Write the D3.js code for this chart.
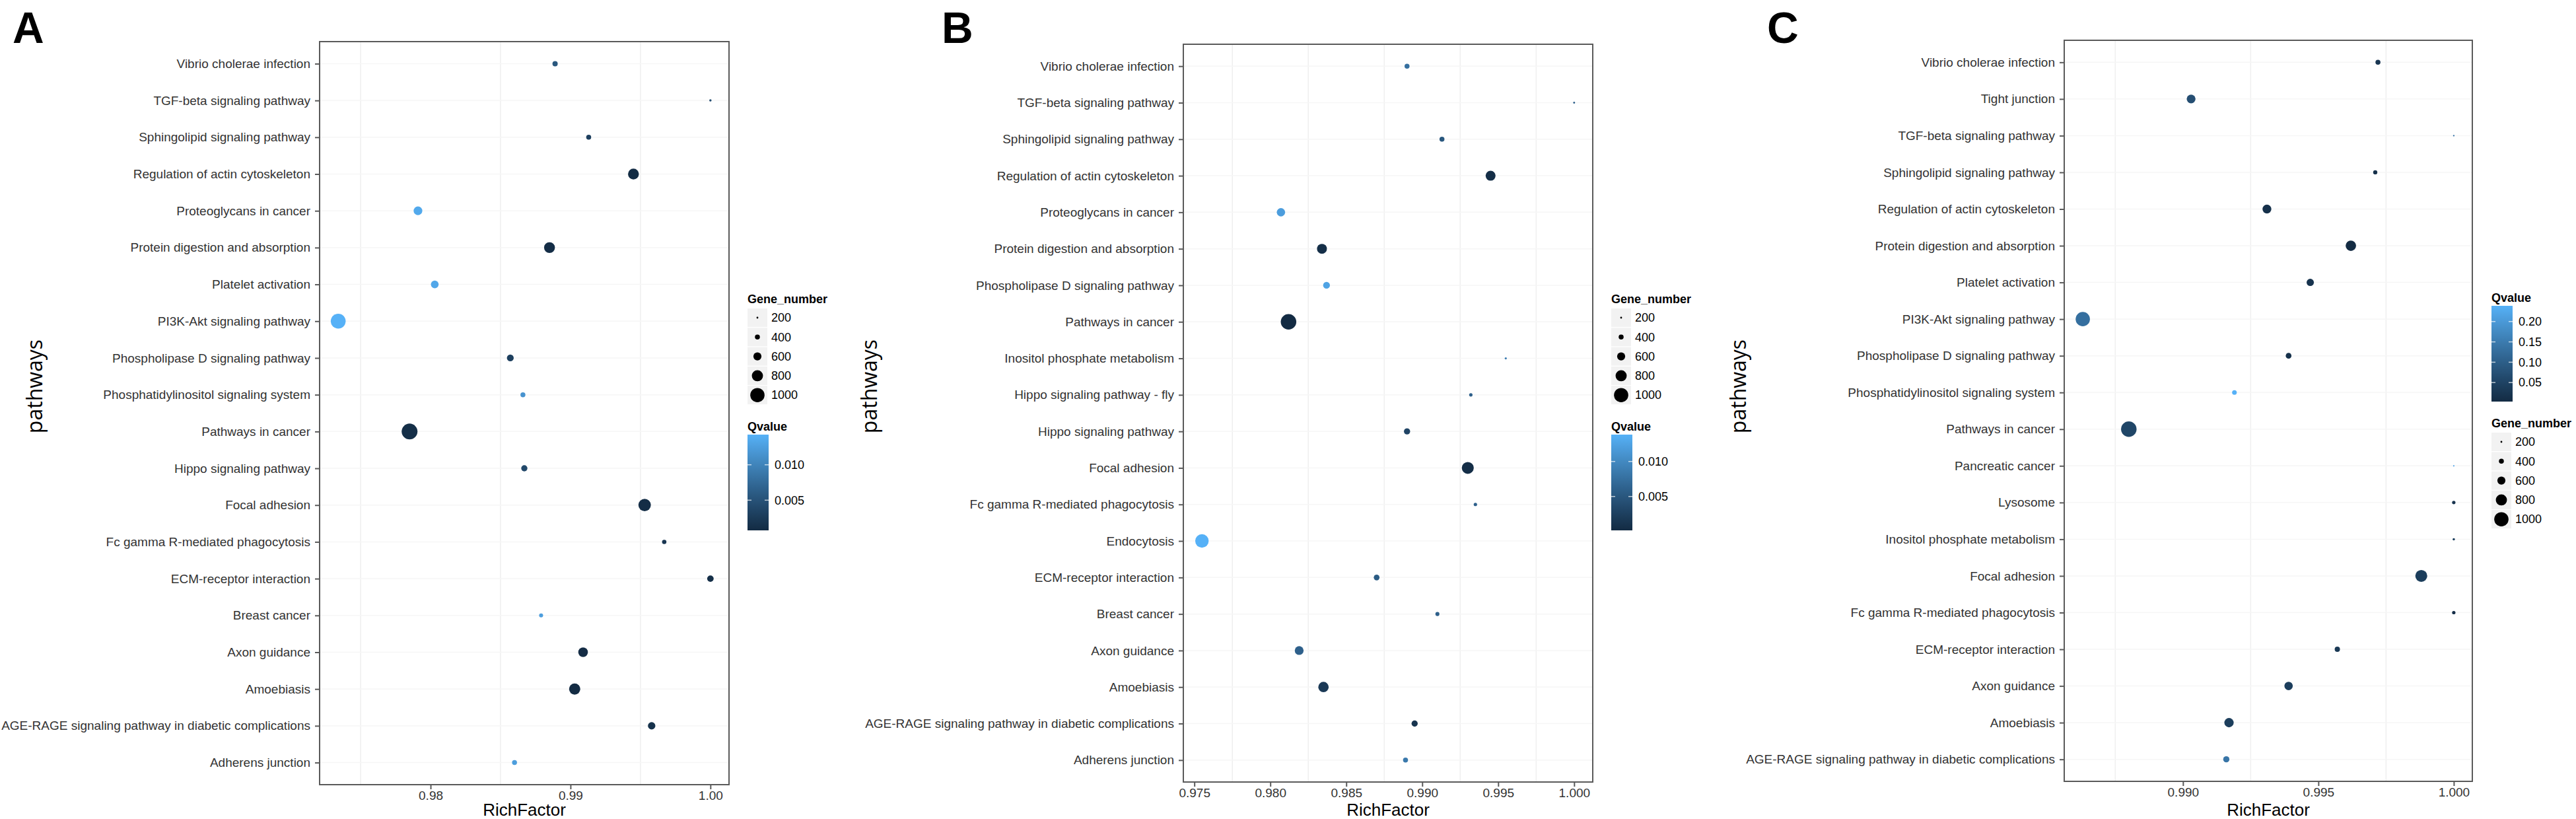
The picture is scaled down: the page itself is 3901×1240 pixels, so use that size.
<!DOCTYPE html>
<html><head><meta charset="utf-8">
<script src="https://cdn.jsdelivr.net/npm/d3@7"></script>
<style>body{margin:0;background:#fff}svg{display:block}</style>
</head><body>
<svg id="chart" width="3901" height="1240"></svg>
<script>
// ---------------- DATA ----------------
const pathwaysA = ["Vibrio cholerae infection","TGF-beta signaling pathway","Sphingolipid signaling pathway","Regulation of actin cytoskeleton","Proteoglycans in cancer","Protein digestion and absorption","Platelet activation","PI3K-Akt signaling pathway","Phospholipase D signaling pathway","Phosphatidylinositol signaling system","Pathways in cancer","Hippo signaling pathway","Focal adhesion","Fc gamma R-mediated phagocytosis","ECM-receptor interaction","Breast cancer","Axon guidance","Amoebiasis","AGE-RAGE signaling pathway in diabetic complications","Adherens junction"];
const richFactorA = [0.9889, 1.0000, 0.9913, 0.9945, 0.9791, 0.9885, 0.9803, 0.9734, 0.9857, 0.9866, 0.9785, 0.9867, 0.9953, 0.9967, 1.0000, 0.9879, 0.9909, 0.9903, 0.9958, 0.9860];
const geneNumberA = [420, 230, 400, 780, 640, 780, 580, 1040, 520, 400, 1100, 480, 880, 360, 500, 340, 700, 800, 560, 400];
const qvalueA = [0.0055, 0.0045, 0.0030, 0.0008, 0.0135, 0.0010, 0.0133, 0.01426, 0.0030, 0.0115, 0.0012, 0.0040, 0.0010, 0.0020, 0.0012, 0.0125, 0.0009, 0.00074, 0.0015, 0.0125];

const pathwaysB = ["Vibrio cholerae infection","TGF-beta signaling pathway","Sphingolipid signaling pathway","Regulation of actin cytoskeleton","Proteoglycans in cancer","Protein digestion and absorption","Phospholipase D signaling pathway","Pathways in cancer","Inositol phosphate metabolism","Hippo signaling pathway - fly","Hippo signaling pathway","Focal adhesion","Fc gamma R-mediated phagocytosis","Endocytosis","ECM-receptor interaction","Breast cancer","Axon guidance","Amoebiasis","AGE-RAGE signaling pathway in diabetic complications","Adherens junction"];
const richFactorB = [0.9890, 1.0000, 0.9913, 0.9945, 0.9807, 0.9834, 0.9837, 0.9812, 0.9955, 0.9932, 0.9890, 0.9930, 0.9935, 0.9755, 0.9870, 0.9910, 0.9819, 0.9835, 0.9895, 0.9889];
const geneNumberB = [400, 200, 400, 720, 620, 720, 520, 1080, 220, 300, 480, 850, 300, 950, 450, 340, 650, 750, 480, 400];
const qvalueB = [0.0075, 0.0060, 0.0050, 0.0005, 0.0120, 0.0006, 0.0125, 0.00016, 0.0090, 0.0060, 0.0030, 0.0005, 0.0060, 0.01384, 0.0055, 0.0060, 0.0060, 0.0018, 0.0012, 0.0085];

const pathwaysC = ["Vibrio cholerae infection","Tight junction","TGF-beta signaling pathway","Sphingolipid signaling pathway","Regulation of actin cytoskeleton","Protein digestion and absorption","Platelet activation","PI3K-Akt signaling pathway","Phospholipase D signaling pathway","Phosphatidylinositol signaling system","Pathways in cancer","Pancreatic cancer","Lysosome","Inositol phosphate metabolism","Focal adhesion","Fc gamma R-mediated phagocytosis","ECM-receptor interaction","Axon guidance","Amoebiasis","AGE-RAGE signaling pathway in diabetic complications"];
const richFactorC = [0.9972, 0.9903, 1.0000, 0.9971, 0.9931, 0.9962, 0.9947, 0.9863, 0.9939, 0.9919, 0.9880, 1.0000, 1.0000, 1.0000, 0.9988, 1.0000, 0.9957, 0.9939, 0.9917, 0.9916];
const geneNumberC = [400, 650, 180, 350, 650, 750, 550, 1000, 450, 380, 1080, 170, 300, 230, 850, 300, 420, 620, 680, 480];
const qvalueC = [0.025, 0.07, 0.14, 0.015, 0.015, 0.0032, 0.02, 0.13, 0.015, 0.2387, 0.055, 0.22, 0.02, 0.04, 0.04, 0.01, 0.03, 0.04, 0.04, 0.14];

const xTicksA = [0.98, 0.99, 1.00];
const xTicksB = [0.975, 0.980, 0.985, 0.990, 0.995, 1.000];
const xTicksC = [0.990, 0.995, 1.000];
const qTicksA = [0.005, 0.010];
const qTicksB = [0.005, 0.010];
const qTicksC = [0.05, 0.10, 0.15, 0.20];
const geneBreaks = [200, 400, 600, 800, 1000];

// ---------------- DRAW ----------------
const svg = d3.select("#chart");
svg.append("rect").attr("width", 3901).attr("height", 1240).attr("fill", "#fff");
const FONT = "'Liberation Sans', Arial, Helvetica, sans-serif";
const sizeScale = d3.scaleLinear().domain([200, 1000]).range([1.4, 10.8]);
const radius = v => Math.max(1.1, sizeScale(v));

function drawPanel(cfg, idx) {
  const g = svg.append("g");
  const [xmin, xmax] = d3.extent(cfg.rich);
  const pad = (xmax - xmin) * 0.05;
  const x = d3.scaleLinear().domain([xmin - pad, xmax + pad]).range([cfg.left, cfg.right]);
  const y = d3.scalePoint().domain(cfg.cats).range([cfg.top, cfg.bottom]).padding(0.6);
  const qExt = d3.extent(cfg.q);
  const color = d3.scaleLinear().domain(qExt).range(["#132B43", "#56B1F7"]).interpolate(d3.interpolateLab);

  // panel letter
  g.append("text").attr("x", cfg.letterX).attr("y", 65).text(cfg.letter)
    .attr("font-family", FONT).attr("font-weight", "bold").attr("font-size", 66).attr("fill", "#000");

  // grid
  const minor = [];
  for (let i = 0; i < cfg.ticks.length - 1; i++) minor.push((cfg.ticks[i] + cfg.ticks[i + 1]) / 2);
  const step = cfg.ticks[1] - cfg.ticks[0];
  if (cfg.ticks[0] - step / 2 > x.domain()[0]) minor.unshift(cfg.ticks[0] - step / 2);
  g.append("g").selectAll("line").data(minor).join("line")
    .attr("x1", d => x(d)).attr("x2", d => x(d)).attr("y1", cfg.top).attr("y2", cfg.bottom)
    .attr("stroke", "#efefef").attr("stroke-width", 1.5);
  g.append("g").selectAll("line").data(cfg.cats).join("line")
    .attr("x1", cfg.left).attr("x2", cfg.right).attr("y1", d => y(d)).attr("y2", d => y(d))
    .attr("stroke", "#f6f6f6").attr("stroke-width", 1.5);

  // points
  const pts = cfg.cats.map((c, i) => ({c, r: cfg.rich[i], n: cfg.gene[i], q: cfg.q[i]}));
  g.append("g").selectAll("circle").data(pts).join("circle")
    .attr("cx", d => x(d.r)).attr("cy", d => y(d.c)).attr("r", d => radius(d.n))
    .attr("fill", d => color(d.q));

  // frame
  g.append("rect").attr("x", cfg.left).attr("y", cfg.top)
    .attr("width", cfg.right - cfg.left).attr("height", cfg.bottom - cfg.top)
    .attr("fill", "none").attr("stroke", "#5a5a5a").attr("stroke-width", 2);

  // axes
  const xa = g.append("g").attr("transform", `translate(0,${cfg.bottom})`)
    .call(d3.axisBottom(x).tickValues(cfg.ticks).tickFormat(d3.format(cfg.fmt)).tickSize(7).tickPadding(3));
  const ya = g.append("g").attr("transform", `translate(${cfg.left},0)`)
    .call(d3.axisLeft(y).tickSize(7).tickPadding(7));
  [xa, ya].forEach(a => {
    a.select(".domain").remove();
    a.selectAll(".tick line").attr("stroke", "#5a5a5a").attr("stroke-width", 2);
    a.selectAll(".tick text").attr("font-family", FONT).attr("font-size", 19).attr("fill", "#333");
  });

  // axis titles
  g.append("text").attr("x", (cfg.left + cfg.right) / 2).attr("y", 1235).attr("text-anchor", "middle")
    .attr("font-family", FONT).attr("font-size", 26).attr("fill", "#000").text("RichFactor");
  g.append("text").attr("transform", `translate(${cfg.yTitleX},585) rotate(-90)`).attr("text-anchor", "middle")
    .attr("font-family", "'Open Sans', 'DejaVu Sans', sans-serif").attr("font-size", 32).attr("fill", "#000").text("pathways");

  // legends
  const lx = cfg.legX;
  // gene number legend
  const gl = g.append("g");
  gl.append("text").attr("x", lx).attr("y", cfg.geneTitleY).text("Gene_number")
    .attr("font-family", FONT).attr("font-weight", "bold").attr("font-size", 18).attr("fill", "#000");
  const keys = gl.selectAll("g.key").data(geneBreaks).join("g").attr("class", "key")
    .attr("transform", (d, i) => `translate(${lx},${cfg.geneTitleY + 8 + i * 29.3})`);
  keys.append("rect").attr("width", 30).attr("height", 28).attr("fill", "#f2f2f2");
  keys.append("circle").attr("cx", 15).attr("cy", 14).attr("r", d => radius(d)).attr("fill", "#000");
  keys.append("text").attr("x", 36).attr("y", 14).attr("dy", "0.35em").text(d => d)
    .attr("font-family", FONT).attr("font-size", 18).attr("fill", "#000");

  // qvalue colorbar
  const ql = g.append("g");
  ql.append("text").attr("x", lx).attr("y", cfg.qTitleY).text("Qvalue")
    .attr("font-family", FONT).attr("font-weight", "bold").attr("font-size", 18).attr("fill", "#000");
  const gid = "grad" + idx;
  const grad = svg.append("defs").append("linearGradient").attr("id", gid)
    .attr("x1", 0).attr("y1", 1).attr("x2", 0).attr("y2", 0);
  d3.range(0, 1.0001, 0.05).forEach(t => {
    grad.append("stop").attr("offset", t).attr("stop-color", color(qExt[0] + t * (qExt[1] - qExt[0])));
  });
  const barTop = cfg.qTitleY + 6, barBot = barTop + 145, barW = 32;
  ql.append("rect").attr("x", lx).attr("y", barTop).attr("width", barW).attr("height", barBot - barTop)
    .attr("fill", `url(#${gid})`);
  const qs = d3.scaleLinear().domain(qExt).range([barBot, barTop]);
  const qt = ql.selectAll("g.qt").data(cfg.qTicks).join("g").attr("class", "qt")
    .attr("transform", d => `translate(${lx},${qs(d)})`);
  qt.append("line").attr("x1", 0).attr("x2", 6).attr("stroke", "#fff").attr("stroke-opacity", 0.7).attr("stroke-width", 1.5);
  qt.append("line").attr("x1", barW - 6).attr("x2", barW).attr("stroke", "#fff").attr("stroke-opacity", 0.7).attr("stroke-width", 1.5);
  qt.append("text").attr("x", 41).attr("dy", "0.35em").text(d => d3.format(cfg.qFmt)(d))
    .attr("font-family", FONT).attr("font-size", 18).attr("fill", "#000");
}

const panels = [
  {letter: "A", letterX: 19, left: 484, right: 1104, top: 63, bottom: 1188,
   cats: pathwaysA, rich: richFactorA, gene: geneNumberA, q: qvalueA,
   ticks: xTicksA, fmt: ".2f", qTicks: qTicksA, qFmt: ".3f",
   legX: 1132, geneTitleY: 459, qTitleY: 652, yTitleX: 64},
  {letter: "B", letterX: 1426, left: 1792, right: 2412, top: 67, bottom: 1184,
   cats: pathwaysB, rich: richFactorB, gene: geneNumberB, q: qvalueB,
   ticks: xTicksB, fmt: ".3f", qTicks: qTicksB, qFmt: ".3f",
   legX: 2440, geneTitleY: 459, qTitleY: 652, yTitleX: 1328},
  {letter: "C", letterX: 2676, left: 3126, right: 3744, top: 61, bottom: 1183,
   cats: pathwaysC, rich: richFactorC, gene: geneNumberC, q: qvalueC,
   ticks: xTicksC, fmt: ".3f", qTicks: qTicksC, qFmt: ".2f",
   legX: 3773, geneTitleY: 647, qTitleY: 457, yTitleX: 2644}
];
panels.forEach(drawPanel);
</script>
</body></html>
